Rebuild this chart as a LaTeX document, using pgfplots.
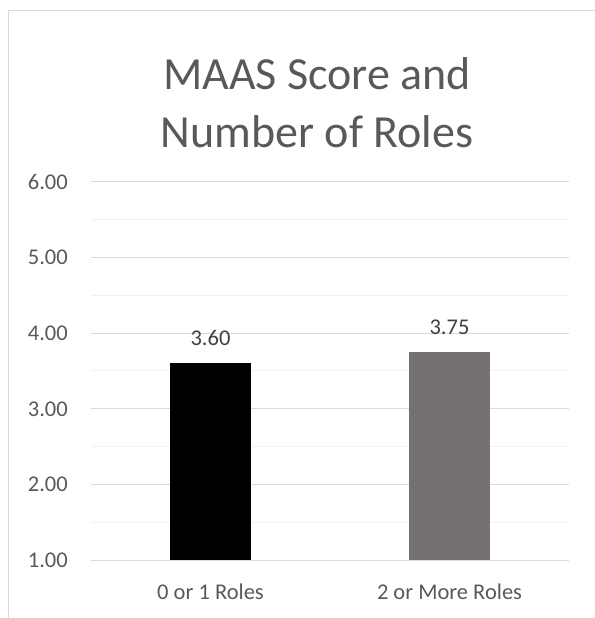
\documentclass[border=0pt]{standalone}
\usepackage{pgfplots}
\pgfplotsset{compat=1.18}
\usepackage{fontspec}
\setmainfont{Carlito}
\definecolor{gridmaj}{HTML}{D9D9D9}
\definecolor{gridmin}{HTML}{F2F2F2}
\definecolor{txt}{HTML}{595959}
\definecolor{lbl}{HTML}{404040}
\definecolor{bartwo}{HTML}{767171}
\begin{document}
\begin{tikzpicture}
\useasboundingbox (0,0) rectangle (595bp,618bp);
\draw[gridmaj, line width=1bp] (8bp,0) -- (8bp,607bp) -- (595bp,607bp);
\node[anchor=base, text=txt, font=\fontsize{46bp}{56bp}\selectfont, inner sep=0pt] at (317bp,528bp) {MAAS Score and};
\node[anchor=base, text=txt, font=\fontsize{46bp}{56bp}\selectfont, inner sep=0pt] at (317bp,470bp) {Number of Roles};
\begin{axis}[
  at={(91bp,58bp)}, anchor=south west,
  scale only axis, width=478bp, height=378bp,
  xmin=-0.5, xmax=1.5, ymin=1, ymax=6,
  xtick={0,1}, xticklabels={0 or 1 Roles, 2 or More Roles},
  ytick={1,2,3,4,5,6}, minor ytick={1.5,2.5,3.5,4.5,5.5},
  ymajorgrids, yminorgrids,
  major grid style={gridmaj, line width=1bp},
  minor grid style={gridmin, line width=1bp},
  axis line style={draw=none},
  major tick length=0pt, minor tick length=0pt,
  /pgf/number format/assume math mode=true,
  yticklabel={\pgfmathprintnumber[fixed, fixed zerofill, precision=2]{\tick}},
  yticklabel style={anchor=east, xshift=-23bp, inner sep=0pt, text=txt, font=\fontsize{22.5bp}{27bp}\selectfont},
  xticklabel style={anchor=base, yshift=-39bp, inner sep=0pt, text=txt, font=\fontsize{22.5bp}{27bp}\selectfont},
  ybar, bar width=80.5bp,
  nodes near coords,
  nodes near coords={\pgfmathprintnumber[fixed, fixed zerofill, precision=2]{\pgfplotspointmeta}},
  every node near coord/.append style={anchor=base, yshift=18bp, inner sep=0pt, text=lbl, font=\fontsize{22.5bp}{27bp}\selectfont},
]
\addplot[fill=black, draw=none, bar shift=0pt] coordinates {(0,3.60)};
\addplot[fill=bartwo, draw=none, bar shift=0pt] coordinates {(1,3.75)};
\end{axis}
\end{tikzpicture}
\end{document}
